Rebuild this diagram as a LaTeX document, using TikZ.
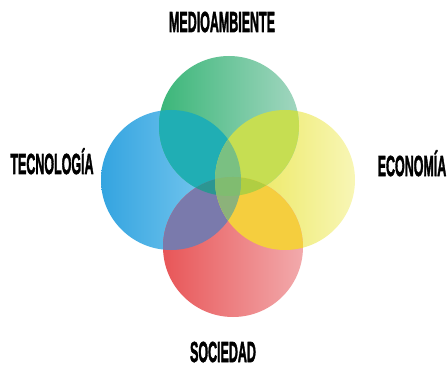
\documentclass[tikz,border=0pt]{standalone}
\usepackage{fontspec}
\setmainfont{Liberation Sans}
\newfontfamily\lblfont{Liberation Sans}[BoldFeatures={FakeBold=2.5}]
\definecolor{gL}{RGB}{58,182,120}
\definecolor{gR}{RGB}{162,214,192}
\definecolor{bL}{RGB}{52,164,224}
\definecolor{bR}{RGB}{136,208,242}
\definecolor{yL}{RGB}{232,228,70}
\definecolor{yR}{RGB}{248,246,182}
\definecolor{rL}{RGB}{232,86,88}
\definecolor{rR}{RGB}{242,170,172}
\definecolor{cBG}{RGB}{32,174,180}
\definecolor{cGY}{RGB}{198,222,82}
\definecolor{cBR}{RGB}{122,122,172}
\definecolor{cRY}{RGB}{245,206,62}
\definecolor{cBGR}{RGB}{44,150,146}
\definecolor{cGYR}{RGB}{176,206,66}
\definecolor{cBYG}{RGB}{122,192,130}
\definecolor{cBYR}{RGB}{140,178,122}
\definecolor{cALL}{RGB}{128,188,112}
\tikzset{
  lbl/.style={inner sep=0pt, anchor=base, font=\lblfont\bfseries\fontsize{29}{29}\selectfont, text=black},
}
\newcommand{\cond}[1]{\scalebox{0.43}[1]{#1}}
\begin{document}
\begin{tikzpicture}[x=1pt,y=-1pt]
\useasboundingbox (0,0) rectangle (448,369);
\coordinate (G) at (229,126);
\coordinate (B) at (171,180);
\coordinate (Y) at (285,180);
\coordinate (R) at (233,247);
\def\rr{70pt}
% single circles
\shade[left color=bL, right color=bR] (B) circle (\rr);
\shade[left color=yL, right color=yR] (Y) circle (\rr);
\shade[left color=rL, right color=rR] (R) circle (\rr);
\shade[left color=gL, right color=gR] (G) circle (\rr);
% pairwise overlaps
\begin{scope}\clip (B) circle (\rr); \fill[cBG] (G) circle (\rr);\end{scope}
\begin{scope}\clip (G) circle (\rr); \fill[cGY] (Y) circle (\rr);\end{scope}
\begin{scope}\clip (B) circle (\rr); \fill[cBR] (R) circle (\rr);\end{scope}
\begin{scope}\clip (R) circle (\rr); \fill[cRY] (Y) circle (\rr);\end{scope}
% triple overlaps
\begin{scope}\clip (B) circle (\rr); \clip (G) circle (\rr); \fill[cBGR] (R) circle (\rr);\end{scope}
\begin{scope}\clip (G) circle (\rr); \clip (Y) circle (\rr); \fill[cGYR] (R) circle (\rr);\end{scope}
\begin{scope}\clip (B) circle (\rr); \clip (Y) circle (\rr); \fill[cBYG] (G) circle (\rr);\end{scope}
\begin{scope}\clip (B) circle (\rr); \clip (Y) circle (\rr); \fill[cBYR] (R) circle (\rr);\end{scope}
% all four
\begin{scope}\clip (B) circle (\rr); \clip (Y) circle (\rr); \clip (G) circle (\rr); \fill[cALL] (R) circle (\rr);\end{scope}
% labels
\node[lbl] (med) at (222,32) {\cond{MEDIOAMBIENTE}};
\node[lbl] (tec) at (52,174) {\cond{TECNOLOGÍA}};
\node[lbl] (eco) at (412,176) {\cond{ECONOMÍA}};
\node[lbl] (soc) at (223,362) {\cond{SOCIEDAD}};
\end{tikzpicture}
\end{document}
